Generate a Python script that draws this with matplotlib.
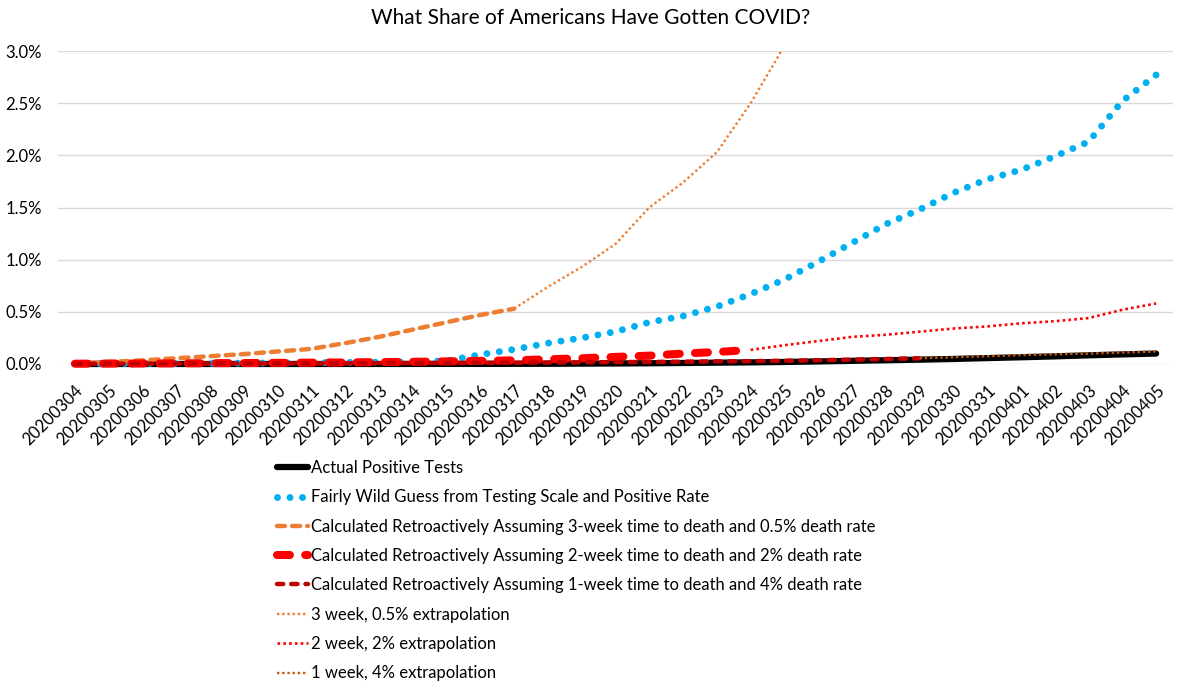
import matplotlib
matplotlib.use("Agg")
import matplotlib.pyplot as plt
import numpy as np
from matplotlib.ticker import FuncFormatter, MultipleLocator

plt.rcParams['font.family'] = ['Lato', 'DejaVu Sans']

dates = ["20200304", "20200305", "20200306", "20200307", "20200308", "20200309",
         "20200310", "20200311", "20200312", "20200313", "20200314", "20200315",
         "20200316", "20200317", "20200318", "20200319", "20200320", "20200321",
         "20200322", "20200323", "20200324", "20200325", "20200326", "20200327",
         "20200328", "20200329", "20200330", "20200331", "20200401", "20200402",
         "20200403", "20200404", "20200405"]

# values in percent of population
actual = [0.0000, 0.0001, 0.0001, 0.0001, 0.0001, 0.0002, 0.0002, 0.0003, 0.0004,
          0.0006, 0.0007, 0.0010, 0.0012, 0.0017, 0.0023, 0.0036, 0.0052, 0.0070,
          0.0097, 0.0128, 0.0157, 0.0194, 0.0245, 0.0301, 0.0358, 0.0416, 0.0482,
          0.0565, 0.0645, 0.0732, 0.0831, 0.0921, 0.1000]
guess = [0.003, 0.004, 0.005, 0.006, 0.007, 0.008, 0.010, 0.012, 0.015, 0.018,
         0.022, 0.030, 0.090, 0.140, 0.200, 0.250, 0.310, 0.400, 0.460, 0.550,
         0.670, 0.810, 0.980, 1.160, 1.340, 1.480, 1.640, 1.770, 1.860, 1.990,
         2.130, 2.520, 2.770]
calc3 = [0.005, 0.020, 0.035, 0.055, 0.075, 0.095, 0.120, 0.145, 0.200, 0.260,
         0.330, 0.400, 0.470, 0.530]
calc2 = [0.003, 0.004, 0.005, 0.006, 0.008, 0.009, 0.011, 0.013, 0.015, 0.018,
         0.021, 0.025, 0.030, 0.035, 0.045, 0.055, 0.068, 0.080, 0.100, 0.115,
         0.135]
calc1 = [0.002, 0.003, 0.003, 0.004, 0.004, 0.005, 0.005, 0.006, 0.007, 0.008,
         0.009, 0.010, 0.011, 0.012, 0.014, 0.016, 0.018, 0.020, 0.022, 0.025,
         0.027, 0.031, 0.036, 0.042, 0.048, 0.055]
ext3_start = 13
ext3 = [0.530, 0.740, 0.930, 1.150, 1.500, 1.740, 2.030, 2.500, 3.050]
ext2_start = 20
ext2 = [0.135, 0.180, 0.220, 0.260, 0.280, 0.310, 0.340, 0.360, 0.390, 0.410,
        0.440, 0.520, 0.580]
ext1_start = 25
ext1 = [0.055, 0.065, 0.075, 0.085, 0.093, 0.100, 0.110, 0.120]

labels = ["Actual Positive Tests",
          "Fairly Wild Guess from Testing Scale and Positive Rate",
          "Calculated Retroactively Assuming 3-week time to death and 0.5% death rate",
          "Calculated Retroactively Assuming 2-week time to death and 2% death rate",
          "Calculated Retroactively Assuming 1-week time to death and 4% death rate",
          "3 week, 0.5% extrapolation",
          "2 week, 2% extrapolation",
          "1 week, 4% extrapolation"]

fig = plt.figure(figsize=(11.83, 6.85), dpi=100)
ax = fig.add_axes([58 / 1183, 1 - 364 / 685, (1173 - 58) / 1183, (364 - 51) / 685])

x = np.arange(len(dates))

ax.plot(x, actual, color="black", lw=4.5, solid_capstyle="round", clip_on=False,
        label=labels[0], zorder=3)
ax.plot(x, guess, color="#00B0F0", lw=5.0, linestyle=(0, (0.001, 1.8)),
        dash_capstyle="round", clip_on=False, label=labels[1], zorder=4)
ax.plot(x[:len(calc3)], calc3, color="#ED7D31", lw=3.2, linestyle=(0, (1.8, 1.6)),
        dash_capstyle="round", clip_on=False, label=labels[2], zorder=5)
ax.plot(x[:len(calc2)], calc2, color="#FF0000", lw=5.8, linestyle=(0, (1.6, 1.9)),
        dash_capstyle="round", clip_on=False, label=labels[3], zorder=6)
ax.plot(x[:len(calc1)], calc1, color="#C00000", lw=3.2, linestyle=(0, (1.4, 1.8)),
        dash_capstyle="round", clip_on=False, label=labels[4], zorder=7)
ax.plot(x[ext3_start:ext3_start + len(ext3)], ext3, color="#ED7D31", lw=1.7,
        linestyle=(0, (1, 1.2)), label=labels[5], zorder=8)
ax.plot(x[ext2_start:ext2_start + len(ext2)], ext2, color="#FF0000", lw=1.9,
        linestyle=(0, (1, 1.2)), clip_on=False, label=labels[6], zorder=9)
ax.plot(x[ext1_start:ext1_start + len(ext1)], ext1, color="#C55A11", lw=1.7,
        linestyle=(0, (1, 1.2)), clip_on=False, label=labels[7], zorder=10)

ax.set_xlim(-0.5, len(dates) - 0.5)
ax.set_ylim(0, 3.0)
ax.yaxis.set_major_locator(MultipleLocator(0.5))
ax.yaxis.set_major_formatter(FuncFormatter(lambda v, p: f"{v:.1f}%"))
ax.grid(axis="y", color="#D9D9D9", lw=1.0, zorder=0)
ax.set_axisbelow(True)
for s in ax.spines.values():
    s.set_visible(False)
ax.tick_params(axis="both", length=0, labelsize=12, colors="black")
ax.tick_params(axis="y", pad=11.5)
ax.set_xticks(x)
ax.set_xticklabels(dates, rotation=45, ha="right", rotation_mode="anchor")
ax.tick_params(axis="x", pad=13)

fig.text(591 / 1183, 1 - 18 / 685, "What Share of Americans Have Gotten COVID?",
         ha="center", va="center", fontsize=15)

leg = fig.legend(loc="upper left", bbox_to_anchor=(277 / 1183, 1 - 460 / 685),
                 frameon=False, fontsize=12, handlelength=1.87, handletextpad=0.15,
                 labelspacing=0.80, borderaxespad=0, borderpad=0)

fig.savefig("out.png", dpi=100)
